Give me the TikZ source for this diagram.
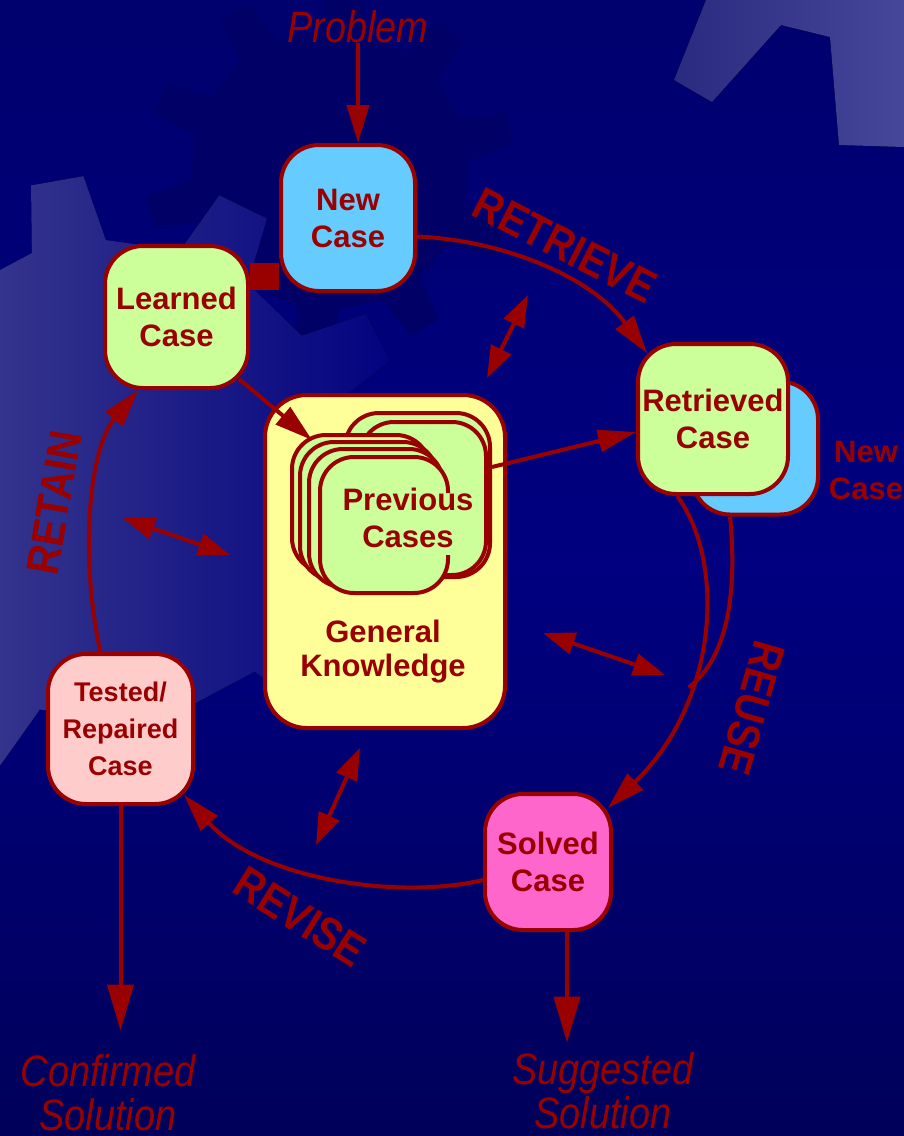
\documentclass[tikz,border=0pt]{standalone}
\usepackage{fontspec}
\setmainfont{Liberation Sans}
\newfontfamily\narrowsans[FakeStretch=0.86]{Liberation Sans}
\usetikzlibrary{arrows.meta, calc}

\definecolor{cbrred}{HTML}{990000}
\definecolor{navytop}{HTML}{00006E}
\definecolor{navymid}{HTML}{000080}
\definecolor{navybot}{HTML}{00005A}
\definecolor{newblue}{HTML}{66CCFF}
\definecolor{casegreen}{HTML}{CCFF99}
\definecolor{knowyellow}{HTML}{FFFF99}
\definecolor{testpink}{HTML}{FFCCCC}
\definecolor{solvedpink}{HTML}{FF66CC}
\definecolor{gearlight}{HTML}{4C4C92}
\definecolor{geardark}{HTML}{000066}
\definecolor{gearedge}{HTML}{2A2A80}
\definecolor{geartip}{HTML}{46469A}

\pgfdeclarelayer{back}
\pgfdeclarelayer{links}
\pgfsetlayers{back,links,main}

\begin{document}
\begin{tikzpicture}[
        x=1pt, y=-1pt,
        casebox/.style={rectangle, rounded corners=38pt, draw=cbrred, line width=4pt, text=cbrred, align=center, inner sep=0pt, font=\fontsize{31}{37}\selectfont\bfseries},
        card/.style={fill=casegreen, draw=cbrred, line width=4pt, rounded corners=34pt},
        flow/.style={draw=cbrred, line width=4pt, -{Triangle[length=38pt, width=22pt]}},
        twoway/.style={draw=cbrred, line width=4pt, {Triangle[length=32pt, width=22pt]}-{Triangle[length=32pt, width=22pt]}},
        outflow/.style={draw=cbrred, line width=4pt, -{Triangle[length=46pt, width=26pt]}},
        phase/.style={text=cbrred, inner sep=0pt, font=\narrowsans\fontsize{46}{46}\selectfont\bfseries},
        endpoint/.style={text=cbrred, align=center, inner sep=0pt, font=\narrowsans\fontsize{44}{44}\selectfont\itshape}
    ]
        \useasboundingbox (0,0) rectangle (904,1136);

        % Backdrop with gears
        \begin{pgfonlayer}{back}
            \begin{scope}
                \clip (0,0) rectangle (904,1136);
                \shade[top color=navytop, bottom color=navybot, middle color=navymid] (0,0) rectangle (904,1136);
                \begin{scope}[shift={(330,170)}]
                    \fill[geardark] (86:140) \foreach \k in {0,...,9} { -- ({95+36*\k-9}:140) -- ({95+36*\k-5}:185) -- ({95+36*\k+5}:185) -- ({95+36*\k+9}:140) } -- cycle;
                \end{scope}
                \begin{scope}[shift={(110,480)}]
                    \fill[left color=gearlight, right color=navymid] (-109:240) \foreach \k in {0,...,9} { -- ({-100+36*\k-9}:240) -- ({-100+36*\k-5}:305) -- ({-100+36*\k+5}:305) -- ({-100+36*\k+9}:240) } -- cycle;
                \end{scope}
                \fill[left color=gearedge, right color=geartip] (674,80) -- (712,102) -- (781,25) -- (830,37) -- (839,145) -- (904,147) -- (904,0) -- (706,0) -- cycle;
            \end{scope}
        \end{pgfonlayer}

        % Cases
        \node [casebox, fill=newblue, minimum width=134pt, minimum height=146pt] (newcase) at (348,218) {New\\Case};
        \node [casebox, fill=casegreen, minimum width=143pt, minimum height=142pt] (learned) at (176.5,317) {Learned\\Case};
        \node [casebox, fill=newblue, minimum width=126pt, minimum height=133pt] (backcase) at (755,448) {};
        \node [casebox, fill=casegreen, minimum width=150pt, minimum height=150pt] (retrieved) at (713,419) {Retrieved\\Case};
        \node [text=cbrred, align=center, font=\fontsize{31}{37}\selectfont\bfseries] (newnote) at (866,470) {New\\Case};
        \node [casebox, fill=testpink, minimum width=145pt, minimum height=150pt, font=\fontsize{27}{37}\selectfont\bfseries] (tested) at (120.5,729) {Tested/\\Repaired\\Case};
        \node [casebox, fill=solvedpink, minimum width=126pt, minimum height=136pt] (solved) at (548,862) {Solved\\Case};

        % Knowledge base with the stack of previous cases
        \node [casebox, fill=knowyellow, rounded corners=42pt, minimum width=240pt, minimum height=333pt] (knowledge) at (385,561.5) {};
        \node [casebox, fill=casegreen, rounded corners=34pt, minimum width=145pt, minimum height=164pt] (stack) at (417.5,495) {};
        \draw [card] (360,422) rectangle (486,575);
        \foreach \xa/\ya/\xb/\yb in {292/435/430/572, 300/442/437/580, 309/449/443/587, 320/457/448/593} {
            \fill [casegreen, rounded corners=34pt] (\xa,\ya) rectangle (\xb,\yb);
            \draw [cbrred, line width=4pt, rounded corners=34pt] (\xb,{\yb-38}) -- (\xb,\yb) -- (\xa,\yb) -- (\xa,\ya) -- (\xb,\ya) -- (\xb,{\ya+36});
        }
        \node [text=cbrred, align=center, font=\fontsize{31}{37}\selectfont\bfseries] (prevcases) at (408,518) {Previous\\Cases};
        \node [text=cbrred, align=center, font=\fontsize{31}{34}\selectfont\bfseries] (general) at (383,652) {General\\Knowledge};

        % Inputs and outputs
        \node [endpoint] (problem) at (358,27) {Problem};
        \node [endpoint] (confirmed) at (108,1093) {Confirmed\\Solution};
        \node [endpoint] (suggested) at (603,1091) {Suggested\\Solution};

        % Phase names
        \node [phase, rotate=-27] (retrieve) at (565,245) {RETRIEVE};
        \node [phase, rotate=-106] (reuse) at (752,708) {REUSE};
        \node [phase, rotate=-32] (revise) at (300,917) {REVISE};
        \node [phase, rotate=80] (retain) at (54,503) {RETAIN};

        % Cycle
        \coordinate (stackin) at (312,440);
        \coordinate (solvedout) at ($(solved.south)+(19,0)$);
        \begin{pgfonlayer}{links}
            \fill [cbrred] ($(learned.east)+(0,-54)$) rectangle ($(newcase.west)+(0,72)$);
            \draw [flow] (problem.south) -- (problem.south |- newcase.north);
            \draw [flow] (newcase.-15) .. controls (500,240) and (590,275) .. ($(retrieved.north west)+(11,11)$);
            \draw [flow] (retrieved.-115) .. controls (725,560) and (720,700) .. coordinate[pos=0.65] (reusejoin) ($(solved.north east)+(-5,16)$);
            \draw [cbrred, line width=4pt] (backcase.-110) .. controls (738,600) and (725,660) .. (reusejoin);
            \draw [flow] ($(solved.west)+(0,18)$) .. controls (400,900) and (260,880) .. ($(tested.south east)+(-11,-11)$);
            \draw [flow] ($(tested.north)+(-20,0)$) .. controls (80,560) and (88,450) .. ($(learned.south)+(-38,0)$);
            \draw [outflow, shorten >=24pt] (tested.south) -- (tested.south |- confirmed.north);
            \draw [outflow, shorten >=10pt] (solvedout) -- (solvedout |- suggested.north);
        \end{pgfonlayer}
        \draw [flow] ($(learned.south east)+(-11,-11)$) -- (stackin);
        \draw [flow] ($(stack.east)+(0,-28)$) -- (retrieved.west |- 0,432);

        % Use of general knowledge
        \coordinate (k1a) at (528,295);
        \coordinate (k1b) at (487,378);
        \coordinate (k2a) at (123,518);
        \coordinate (k2b) at (230,555);
        \coordinate (k3a) at (543,633);
        \coordinate (k3b) at (665,675);
        \coordinate (k4a) at (360,748);
        \coordinate (k4b) at (316,845);
        \draw [twoway] (k1a) -- (k1b);
        \draw [twoway] (k2a) -- (k2b);
        \draw [twoway] (k3a) -- (k3b);
        \draw [twoway] (k4a) -- (k4b);
    \end{tikzpicture}
\end{document}
